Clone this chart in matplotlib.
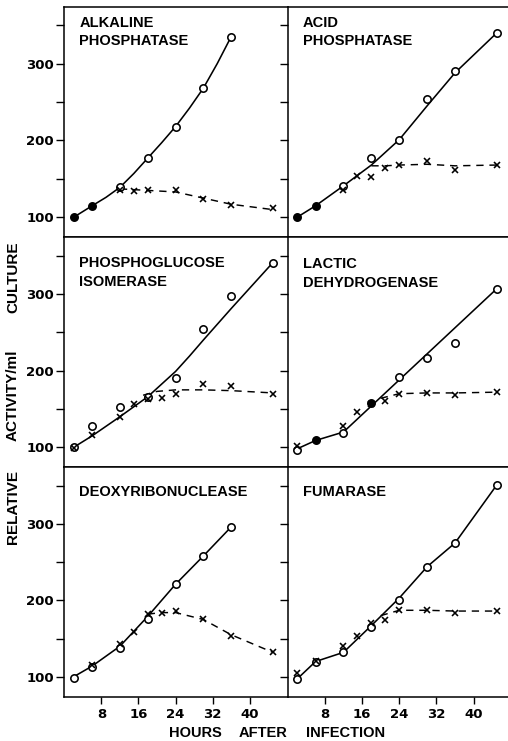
import matplotlib

matplotlib.use("Agg")
import matplotlib.pyplot as plt

# relative activity / ml culture vs hours after infection
# filled = solid dots, open = open circles, cross = "x" points,
# solid / dash = the drawn curves

# ALKALINE PHOSPHATASE
alk_filled_h = [2, 6]
alk_filled_v = [100, 115]
alk_open_h = [12, 18, 24, 30, 36]
alk_open_v = [139, 177, 218, 268, 335]
alk_cross_h = [12, 15, 18, 24, 30, 36, 45]
alk_cross_v = [136, 134, 136, 136, 124, 116, 112]
alk_solid_h = [2, 6, 9, 12, 15, 18, 21, 24, 27, 30, 33, 36]
alk_solid_v = [100, 115, 126, 139, 157, 177, 197, 218, 242, 268, 300, 335]
alk_dash_h = [12, 15, 18, 24, 30, 36, 45]
alk_dash_v = [137, 136, 135, 133, 125, 117, 110]

# ACID PHOSPHATASE
acid_filled_h = [2, 6]
acid_filled_v = [100, 115]
acid_open_h = [12, 18, 24, 30, 36, 45]
acid_open_v = [141, 177, 201, 254, 290, 340]
acid_cross_h = [12, 15, 18, 21, 24, 30, 36, 45]
acid_cross_v = [136, 154, 152, 164, 168, 173, 162, 168]
acid_solid_h = [2, 6, 12, 18, 24, 30, 36, 45]
acid_solid_v = [100, 115, 141, 168, 201, 245, 288, 340]
acid_dash_h = [18, 21, 24, 30, 36, 45]
acid_dash_v = [167, 167, 168, 169, 167, 168]

# PHOSPHOGLUCOSE ISOMERASE
pgi_open_h = [2, 6, 12, 18, 24, 30, 36, 45]
pgi_open_v = [101, 128, 153, 166, 190, 254, 298, 340]
pgi_cross_h = [2, 6, 12, 15, 18, 21, 24, 30, 36, 45]
pgi_cross_v = [99, 116, 139, 157, 163, 165, 170, 183, 180, 170]
pgi_solid_h = [2, 6, 12, 18, 24, 27, 30, 36, 45]
pgi_solid_v = [100, 115, 140, 166, 199, 219, 240, 281, 341]
pgi_dash_h = [17, 20, 24, 30, 36, 45]
pgi_dash_v = [168, 173, 175, 175, 174, 171]

# LACTIC DEHYDROGENASE
ldh_filled_h = [6, 18]
ldh_filled_v = [109, 158]
ldh_open_h = [2, 12, 24, 30, 36, 45]
ldh_open_v = [97, 119, 192, 217, 236, 307]
ldh_cross_h = [2, 12, 15, 18, 21, 24, 30, 36, 45]
ldh_cross_v = [102, 128, 146, 157, 161, 170, 171, 168, 172]
ldh_solid_h = [2, 6, 12, 45]
ldh_solid_v = [98, 109, 120, 307]
ldh_dash_h = [20, 24, 30, 36, 45]
ldh_dash_v = [164, 170, 171, 171, 172]

# DEOXYRIBONUCLEASE
dna_open_h = [2, 6, 12, 18, 24, 30, 36]
dna_open_v = [99, 113, 138, 176, 221, 258, 296]
dna_cross_h = [6, 12, 15, 18, 21, 24, 30, 36, 45]
dna_cross_v = [116, 143, 159, 182, 184, 186, 176, 154, 132]
dna_solid_h = [2, 6, 12, 18, 24, 30, 36]
dna_solid_v = [100, 114, 140, 179, 221, 258, 296]
dna_dash_h = [18, 21, 24, 30, 36, 45]
dna_dash_v = [182, 184, 184, 175, 155, 132]

# FUMARASE
fum_open_h = [2, 6, 12, 18, 24, 30, 36, 45]
fum_open_v = [97, 120, 132, 165, 200, 244, 275, 351]
fum_cross_h = [2, 6, 12, 15, 18, 21, 24, 30, 36, 45]
fum_cross_v = [105, 121, 140, 154, 170, 174, 187, 188, 183, 186]
fum_solid_h = [2, 6, 12, 18, 24, 30, 36, 45]
fum_solid_v = [97, 120, 132, 167, 203, 244, 275, 351]
fum_dash_h = [20, 24, 30, 36, 45]
fum_dash_v = [180, 187, 187, 186, 186]

x_ticks = [8, 16, 24, 32, 40]
y_ticks = [100, 150, 200, 250, 300, 350]
y_tick_labels = ["100", "", "200", "", "300", ""]

NUM_FONT = "DejaVu Sans"        # wide digits for tick labels
TXT_FONT = "Liberation Sans"    # narrower caps for words
plt.rcParams["font.family"] = NUM_FONT
plt.rcParams["font.weight"] = "bold"

W, H = 508, 741
fig = plt.figure(figsize=(W / 100, H / 100), dpi=100)

# panel edges in pixels
col_x = [(64.3, 287.7), (287.7, 508.0)]
row_y = [(6.7, 237.3), (237.3, 467.3), (467.3, 696.7)]
col_xmax = [48.2, 47.4]


def make_ax(row, col):
    x0, x1 = col_x[col]
    y0, y1 = row_y[row]
    ax = fig.add_axes([x0 / W, 1 - y1 / H, (x1 - x0) / W, (y1 - y0) / H])
    ax.set_xlim(0, col_xmax[col])
    ax.set_ylim(74, 374)
    ax.set_xticks(x_ticks)
    ax.set_yticks(y_ticks)
    for s in ax.spines.values():
        s.set_linewidth(1.1)
    ax.spines["right"].set_visible(False)
    ax.tick_params(axis="x", direction="out", length=5, width=1.0, pad=3,
                   labelsize=9.5)
    ax.tick_params(axis="y", direction="out", length=6, width=1.0, pad=1.5,
                   labelsize=9.5)
    if col == 0:
        ax.set_yticklabels(y_tick_labels, fontweight="bold")
    else:
        ax.set_yticklabels([])
    if row == 2:
        ax.set_xticklabels([str(t) for t in x_ticks], fontweight="bold")
    else:
        ax.set_xticklabels([])
    return ax


def draw_panel(ax, title, top_px, solid, dash, open_pts, cross_pts,
               filled_pts=None):
    ax.plot(*solid, color="black", lw=1.15, zorder=2)
    ax.plot(*dash, color="black", lw=1.05, ls=(0, (5, 4)), zorder=2)
    ax.plot(*open_pts, ls="none", marker="o", ms=5.3, mfc="white",
            mec="black", mew=1.15, zorder=4)
    if filled_pts is not None:
        ax.plot(*filled_pts, ls="none", marker="o", ms=5.3, mfc="black",
                mec="black", mew=1.15, zorder=4)
    ax.plot(*cross_pts, ls="none", marker="x", ms=4.5, color="black",
            mew=1.15, zorder=5)
    h = ax.get_window_extent().height
    w = ax.get_window_extent().width
    ax.text(15 / w, 1 - top_px / h, title, transform=ax.transAxes,
            ha="left", va="top", fontsize=10.5, fontweight="bold",
            family=TXT_FONT, linespacing=1.4)


ax = make_ax(0, 0)
draw_panel(ax, "ALKALINE\nPHOSPHATASE", 9,
           (alk_solid_h, alk_solid_v), (alk_dash_h, alk_dash_v),
           (alk_open_h, alk_open_v), (alk_cross_h, alk_cross_v),
           (alk_filled_h, alk_filled_v))

ax = make_ax(0, 1)
draw_panel(ax, "ACID\nPHOSPHATASE", 9,
           (acid_solid_h, acid_solid_v), (acid_dash_h, acid_dash_v),
           (acid_open_h, acid_open_v), (acid_cross_h, acid_cross_v),
           (acid_filled_h, acid_filled_v))

ax = make_ax(1, 0)
draw_panel(ax, "PHOSPHOGLUCOSE\nISOMERASE", 19,
           (pgi_solid_h, pgi_solid_v), (pgi_dash_h, pgi_dash_v),
           (pgi_open_h, pgi_open_v), (pgi_cross_h, pgi_cross_v))

ax = make_ax(1, 1)
draw_panel(ax, "LACTIC\nDEHYDROGENASE", 20,
           (ldh_solid_h, ldh_solid_v), (ldh_dash_h, ldh_dash_v),
           (ldh_open_h, ldh_open_v), (ldh_cross_h, ldh_cross_v),
           (ldh_filled_h, ldh_filled_v))

ax = make_ax(2, 0)
draw_panel(ax, "DEOXYRIBONUCLEASE", 18,
           (dna_solid_h, dna_solid_v), (dna_dash_h, dna_dash_v),
           (dna_open_h, dna_open_v), (dna_cross_h, dna_cross_v))

ax = make_ax(2, 1)
draw_panel(ax, "FUMARASE", 18,
           (fum_solid_h, fum_solid_v), (fum_dash_h, fum_dash_v),
           (fum_open_h, fum_open_v), (fum_cross_h, fum_cross_v))

# y axis label, split in three words as on the original
for word, yc in [("RELATIVE", 507), ("ACTIVITY/ml", 395), ("CULTURE", 277)]:
    fig.text(13 / W, 1 - yc / H, word, rotation=90, ha="center", va="center",
             fontsize=11, fontweight="bold", family=TXT_FONT)

# x axis label
for word, xc in [("HOURS", 195), ("AFTER", 263), ("INFECTION", 346)]:
    fig.text(xc / W, 1 - 733 / H, word, ha="center", va="center",
             fontsize=10.5, fontweight="bold", family=TXT_FONT)

fig.savefig("out.png", dpi=100)
